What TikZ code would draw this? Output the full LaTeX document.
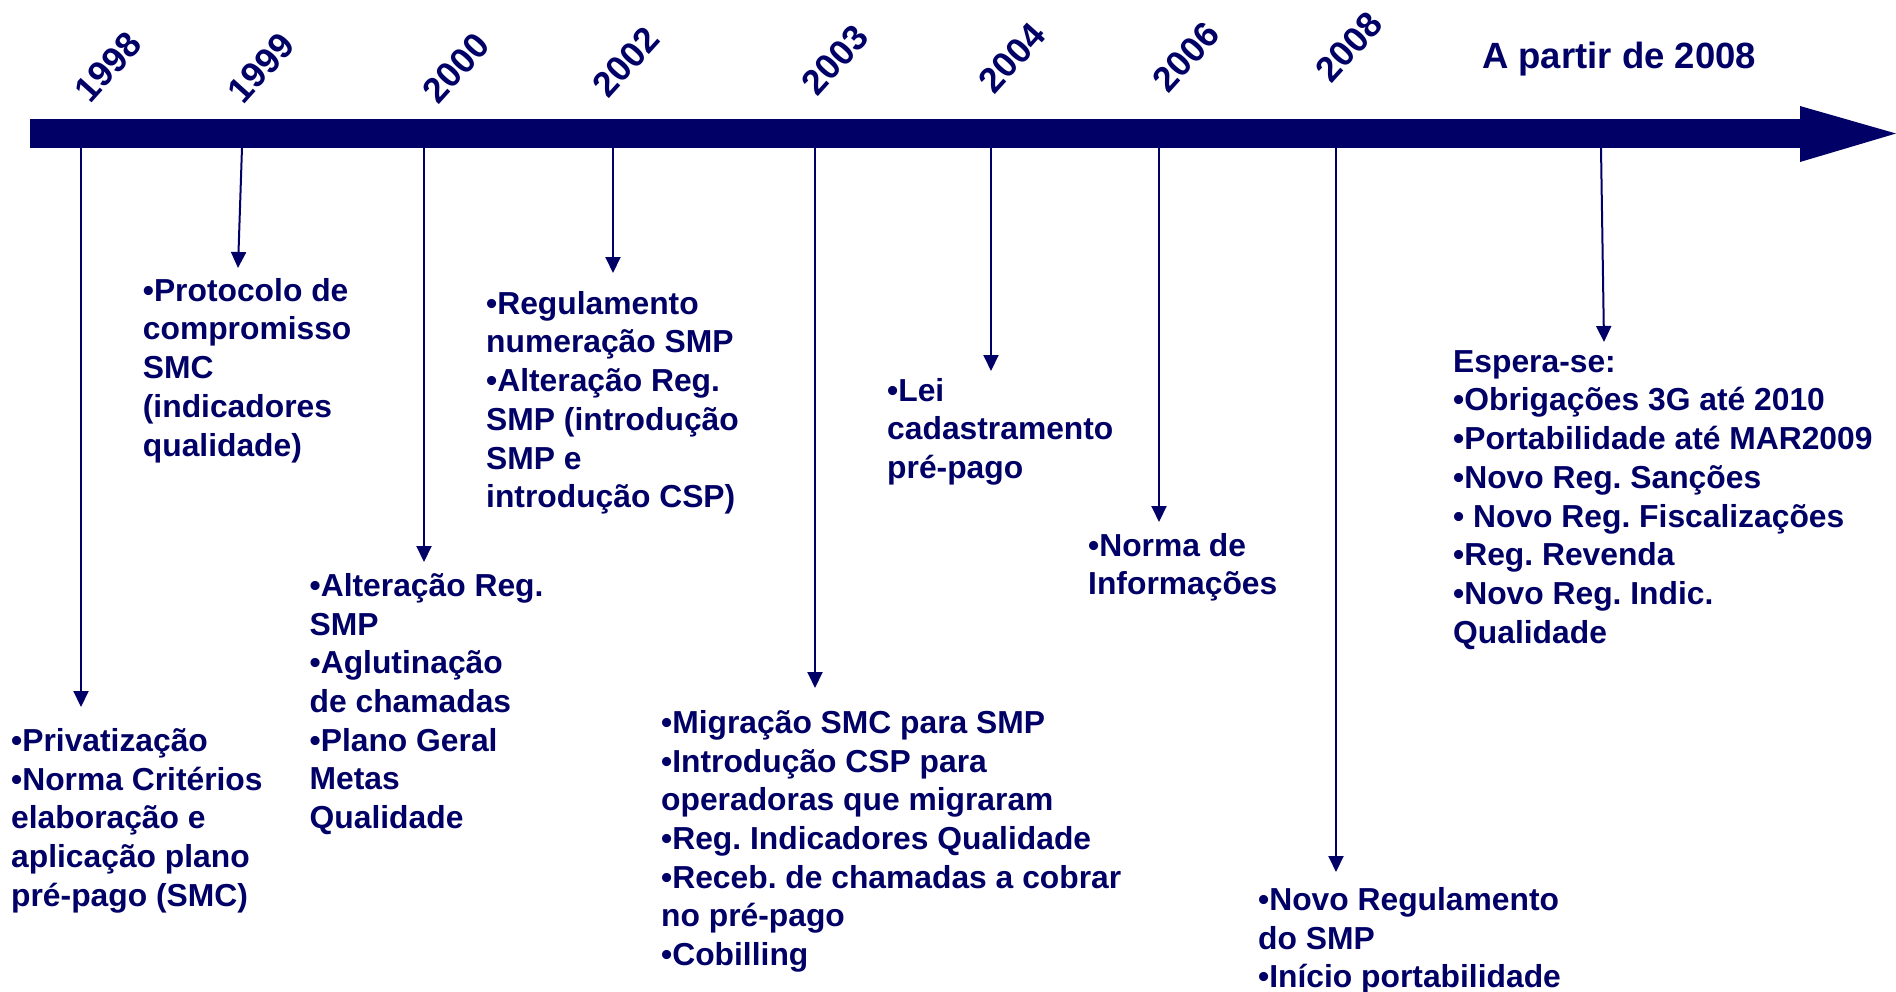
\documentclass[tikz,border=0pt]{standalone}
\usepackage{fontspec}
\setmainfont{Liberation Sans}
\usetikzlibrary{arrows.meta}
\definecolor{navy}{RGB}{0,0,102}
\definecolor{navymid}{RGB}{30,28,122}
\frenchspacing
\begin{document}
\begin{tikzpicture}[x=1pt,y=-1pt,
  conn/.style={draw=navy, line width=2pt, -{Triangle[length=16pt,width=15pt]}},
  body/.style={anchor=north west, inner sep=0pt, align=left, text=navy,
    font=\fontsize{31.8}{38.7}\selectfont\bfseries\frenchspacing},
  year/.style={rotate=48, inner sep=0pt, text=navy,
    font=\fontsize{35.5}{42}\selectfont\bfseries}]
\useasboundingbox (0,0) rectangle (1896,991);
% timeline bar
\shade[left color=navy, middle color=navymid, right color=navy] (30,119.5) rectangle (1802,147.5);
\fill[navy] (1800,106) -- (1896,133.5) -- (1800,162) -- cycle;
% year labels
\node[year] (y98) at (108,67) {1998};
\node[year] (y99) at (261,68) {1999};
\node[year] (y00) at (456,68) {2000};
\node[year] (y02) at (626,62) {2002};
\node[year] (y03) at (835,60) {2003};
\node[year] (y04) at (1012,58) {2004};
\node[year] (y06) at (1186,57) {2006};
\node[year] (y08) at (1349,47) {2008};
\node[anchor=base west, inner sep=0pt, text=navy, font=\fontsize{36.5}{44}\selectfont\bfseries] (yap) at (1482,68.5) {A partir de 2008};
% text blocks
\node[body] (b98) at (11,724) {\strut•Privatização\\•Norma Critérios\\elaboração e\\aplicação plano\\pré-pago (SMC)};
\node[body] (b99) at (142.7,274) {\strut•Protocolo de\\compromisso\\SMC\\(indicadores\\qualidade)};
\node[body] (b00) at (309.5,569) {\strut•Alteração Reg.\\SMP\\•Aglutinação\\de chamadas\\•Plano Geral\\Metas\\Qualidade};
\node[body] (b02) at (486,287) {\strut•Regulamento\\numeração SMP\\•Alteração Reg.\\SMP (introdução\\SMP e\\introdução CSP)};
\node[body] (b03) at (661,706) {\strut•Migração SMC para SMP\\•Introdução CSP para\\operadoras que migraram\\•Reg. Indicadores Qualidade\\•Receb. de chamadas a cobrar\\no pré-pago\\•Cobilling};
\node[body] (b04) at (887,374) {\strut•Lei\\cadastramento\\pré-pago};
\node[body] (b06) at (1088,529) {\strut•Norma de\\Informações};
\node[body] (b08) at (1258,883) {\strut•Novo Regulamento\\do SMP\\•Início portabilidade};
\node[body] (bap) at (1453,345) {\strut Espera-se:\\•Obrigações 3G até 2010\\•Portabilidade até MAR2009\\•Novo Reg. Sanções\\• Novo Reg. Fiscalizações\\•Reg. Revenda\\•Novo Reg. Indic.\\Qualidade};
% connector endpoints
\coordinate (s98) at (81,147.5);   \coordinate (e98) at (81,707);
\coordinate (s99) at (242,147.5);  \coordinate (e99) at (238,268);
\coordinate (s00) at (424,147.5);  \coordinate (e00) at (424,562);
\coordinate (s02) at (613,147.5);  \coordinate (e02) at (613,273);
\coordinate (s03) at (815,147.5);  \coordinate (e03) at (815,688);
\coordinate (s04) at (991,145);    \coordinate (e04) at (991,371);
\coordinate (s06) at (1159,145);   \coordinate (e06) at (1159,522);
\coordinate (s08) at (1336,144);   \coordinate (e08) at (1336,872);
\coordinate (sap) at (1601,147.5); \coordinate (eap) at (1604,342);
\draw[conn] (s98) -- (e98);
\draw[conn] (s99) -- (e99);
\draw[conn] (s00) -- (e00);
\draw[conn] (s02) -- (e02);
\draw[conn] (s03) -- (e03);
\draw[conn] (s04) -- (e04);
\draw[conn] (s06) -- (e06);
\draw[conn] (s08) -- (e08);
\draw[conn] (sap) -- (eap);
\end{tikzpicture}
\end{document}
